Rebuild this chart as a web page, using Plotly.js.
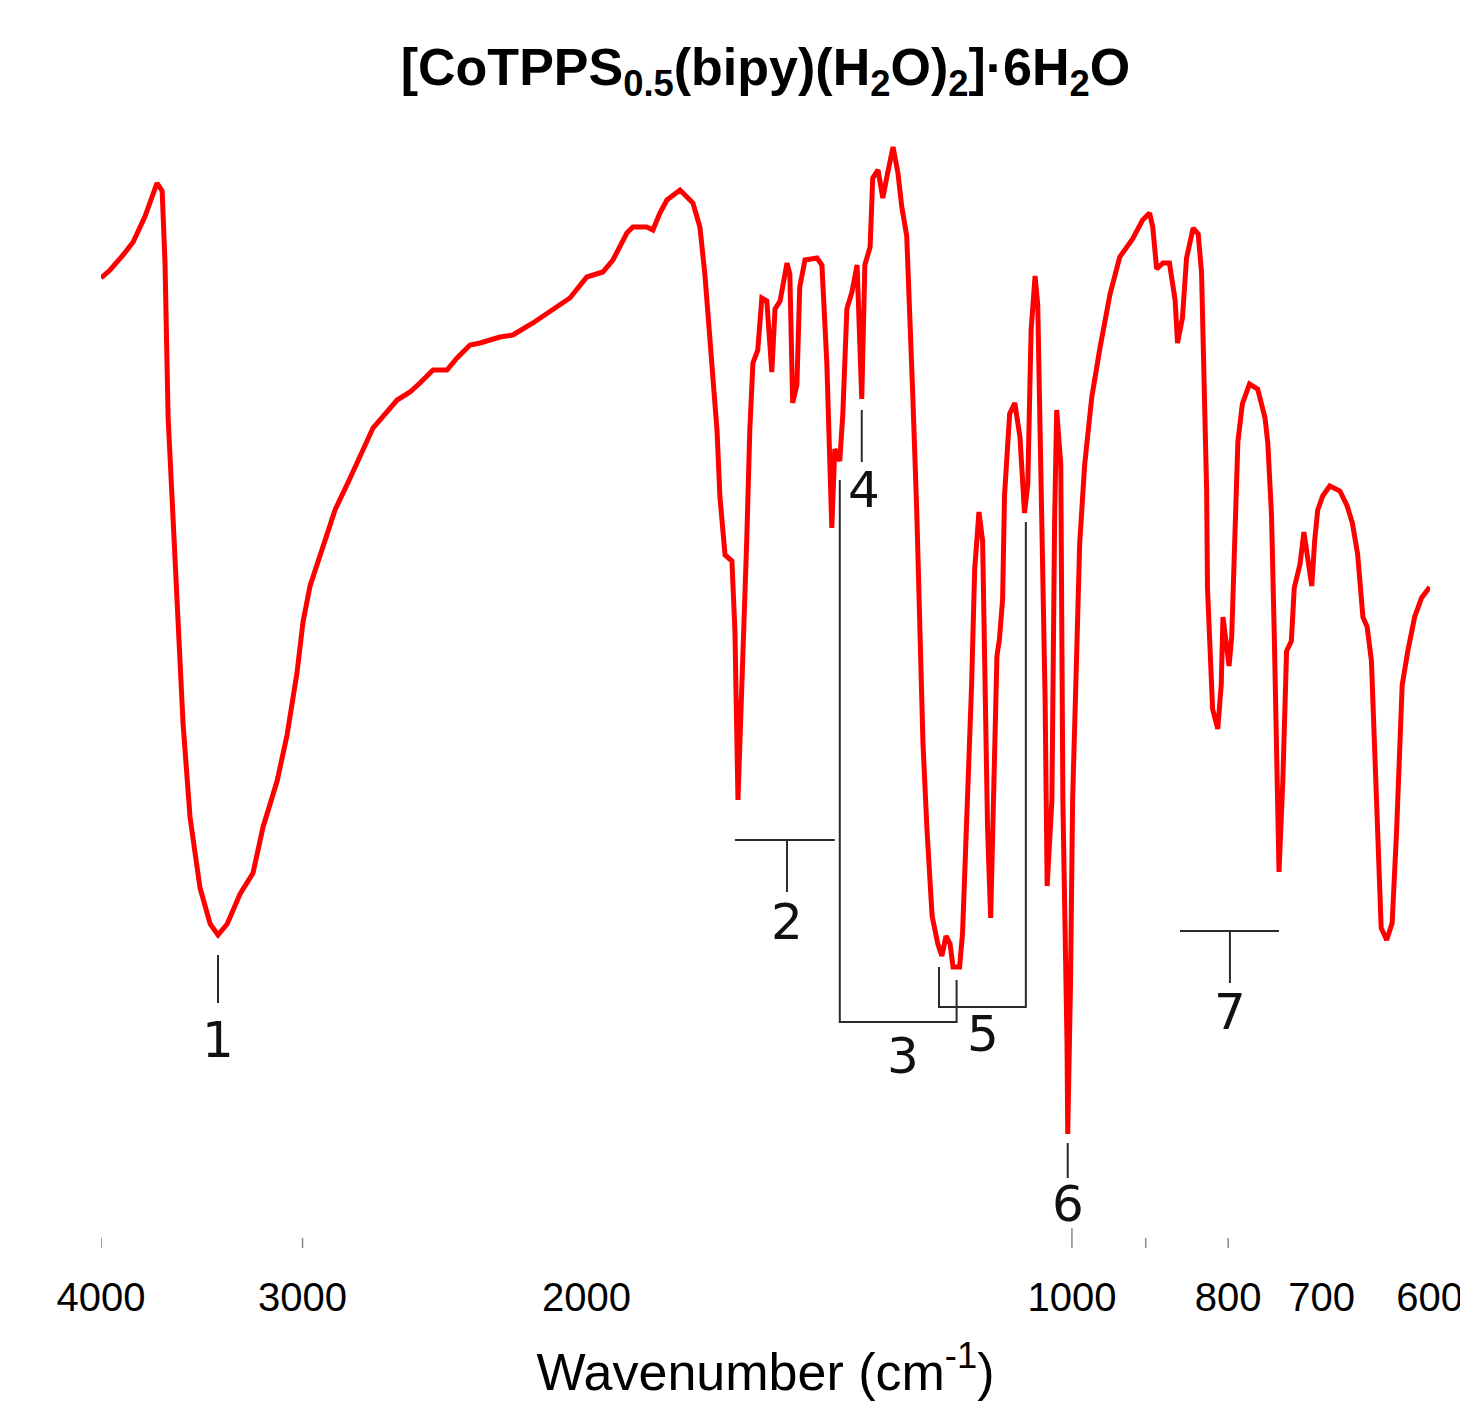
<!DOCTYPE html>
<html>
<head>
<meta charset="utf-8">
<script src="https://cdn.plot.ly/plotly-3.0.1.min.js"></script>
<style>
  html, body { margin: 0; padding: 0; background: #ffffff; }
  #chart { width: 1460px; height: 1401px; }
</style>
</head>
<body>
<div id="chart"></div>
<script>
// IR spectrum of [CoTPPS0.5(bipy)(H2O)2]·6H2O — wavenumber (cm-1) vs transmittance (arb. units)
const wavenumber = [
  4000,3949,3876,3821,3756,3719,3693,3666,3651,3635,
  3609,3583,3558,3523,3473,3423,3385,3341,3280,3220,
  3174,3111,3067,3024,2998,2968,2926,2864,2803,2756,
  2713,2621,2573,2537,2490,2441,2406,2362,2328,2263,
  2222,2159,2098,2048,1999,1954,1926,1888,1872,1835,
  1819,1801,1783,1750,1718,1701,1689,1672,1660,1653,
  1641,1625,1618,1611,1602,1591,1584,1577,1566,1557,
  1546,1535,1528,1517,1502,1496,1490,1481,1475,1464,
  1439,1429,1419,1413,1409,1403,1393,1387,1379,1369,
  1359,1350,1344,1334,1329,1319,1310,1301,1291,1282,
  1275,1266,1260,1255,1248,1243,1237,1230,1221,1211,
  1204,1197,1190,1185,1174,1169,1162,1154,1149,1142,
  1136,1133,1128,1123,1120,1113,1109,1104,1101,1093,
  1085,1077,1070,1065,1060,1054,1050,1044,1039,1036,
  1029,1025,1022,1016,1013,1007,1006,1002,999,993,
  989,982,972,961,947,934,917,904,895,891,
  886,878,870,863,860,854,849,841,835,831,
  827,825,824,821,818,812,808,806,802,799,
  796,792,789,784,776,767,759,756,752,749,
  746,744,740,738,736,731,728,722,718,714,
  710,707,704,699,692,682,675,670,665,660,
  656,652,649,646,643,638,633,629,626,624,
  619,613,607,600
];
const transmittance = [
  96.2,97.0,98.5,99.8,102.4,104.4,105.7,104.9,97.7,82.3,
  72.1,61.8,51.6,42.3,35.2,31.6,30.5,31.6,34.6,36.7,
  41.3,45.9,50.5,56.7,61.8,65.4,68.5,73.0,76.2,78.8,
  81.2,84.0,84.8,85.7,87.0,87.0,88.2,89.5,89.7,90.3,
  90.5,91.7,93.0,94.2,96.3,96.8,98.0,100.7,101.3,101.3,
  101.0,102.7,104.0,105.0,103.7,101.3,96.6,87.7,81.0,74.3,
  68.5,67.9,60.9,44.0,54.2,69.9,81.0,87.7,89.0,94.2,
  93.9,86.8,93.1,93.9,97.7,96.6,83.7,85.5,95.3,98.0,
  98.2,97.5,87.7,77.9,71.2,79.1,77.9,82.6,93.1,94.8,
  97.5,84.1,97.5,99.3,106.2,107.0,104.2,106.7,109.3,106.7,
  103.3,100.4,92.9,84.3,72.8,61.2,49.7,41.1,32.4,29.6,
  28.4,30.4,29.6,27.3,27.3,30.7,41.1,55.5,67.0,72.8,
  69.9,58.4,41.1,32.2,41.1,58.4,60.1,64.1,74.5,82.6,
  83.7,80.3,72.7,75.6,91.0,96.4,93.5,75.0,54.0,35.4,
  44.0,72.0,83.0,77.5,44.0,19.6,10.6,25.7,44.0,59.2,
  69.6,77.5,84.3,89.1,94.6,98.3,100.1,102.0,102.7,101.3,
  97.1,97.7,97.7,94.0,89.7,92.2,98.2,101.2,100.6,96.7,
  84.6,74.9,65.2,57.9,53.1,51.1,55.5,62.3,59.4,57.4,
  60.3,70.0,79.8,83.6,85.6,85.1,82.2,79.7,72.5,60.3,
  45.8,36.8,45.8,55.5,58.9,59.9,65.2,67.6,70.8,68.1,
  65.4,70.0,73.0,74.4,75.4,74.9,73.4,71.7,68.6,62.3,
  61.3,57.9,48.2,38.5,31.2,30.0,31.7,40.9,50.6,55.5,
  58.9,62.3,64.2,65.3
];

// Band assignment labels 1-7
const bandLabels = ['1', '2', '3', '4', '5', '6', '7'];
const bandLabelX = [3385, 1502, 1273, 1346, 1136, 1006, 798];
const bandLabelY = [20.0, 31.8, 18.4, 75.0, 20.6, 3.6, 22.8];

// Bracket / leader lines for the band labels (null separates segments)
const bracketX = [
  3385, 3385, null,                       // 1
  1618, 1403, null, 1502, 1502, null,     // 2
  1393, 1393, 1179, 1179, null,           // 3
  1350, 1350, null,                       // 4
  1209, 1209, 1068, 1068, null,           // 5
  1006, 1006, null,                       // 6
  857, 744, null, 798, 798                // 7
];
const bracketY = [
  28.5, 23.7, null,
  40.0, 40.0, null, 40.0, 34.8, null,
  76.0, 21.8, 21.8, 26.0, null,
  83.0, 77.8, null,
  27.3, 23.3, 23.3, 71.8, null,
  9.7, 6.2, null,
  30.9, 30.9, null, 30.9, 25.7
];

// Axis tick labels and tick marks
const tickLabelValues = [4000, 3000, 2000, 1000, 800, 700, 600];
const tickLabelText = ['4000', '3000', '2000', '1000', '800', '700', '600'];
const tickMarkValues = [4000, 3000, 1000, 900, 800];
const tickMarkTop = [0.2, 0.2, 1.2, 0.2, 0.2];
const tickMarkBottom = -0.8;

const tickX = [], tickY = [];
tickMarkValues.forEach((v, i) => {
  tickX.push(v, v, null);
  tickY.push(tickMarkTop[i], tickMarkBottom, null);
});

const traces = [
  {
    type: 'scatter', mode: 'lines', name: 'ticks',
    x: tickX, y: tickY,
    line: { color: '#8a8a8a', width: 1.5 },
    hoverinfo: 'skip', showlegend: false
  },
  {
    type: 'scatter', mode: 'lines', name: 'spectrum',
    x: wavenumber, y: transmittance,
    line: { color: '#ff0000', width: 5 },
    showlegend: false
  },
  {
    type: 'scatter', mode: 'lines', name: 'brackets',
    x: bracketX, y: bracketY,
    line: { color: '#2a2a2a', width: 2 },
    connectgaps: false,
    hoverinfo: 'skip', showlegend: false
  }
];

const annotations = bandLabels.map((t, i) => ({
  text: t,
  x: Math.log10(bandLabelX[i]),
  y: bandLabelY[i],
  xref: 'x', yref: 'y',
  xanchor: 'center', yanchor: 'middle',
  showarrow: false,
  font: { family: 'DejaVu Sans, Verdana, sans-serif', size: 50, color: '#111111' }
}));

const layout = {
  width: 1460,
  height: 1401,
  paper_bgcolor: '#ffffff',
  plot_bgcolor: '#ffffff',
  margin: { l: 101, r: 30, t: 130, b: 151 },
  showlegend: false,
  hovermode: false,
  title: {
    text: '[CoTPPS<sub>0.5</sub>(bipy)(H<sub>2</sub>O)<sub>2</sub>]·6H<sub>2</sub>O',
    font: { family: 'Liberation Sans, Arial, sans-serif', size: 52, weight: 'bold', color: '#000000' },
    x: 0.5, xref: 'paper', xanchor: 'center',
    y: 0.952, yref: 'container', yanchor: 'middle'
  },
  xaxis: {
    type: 'log',
    range: [Math.log10(4000.5), Math.log10(599.7)],
    tickmode: 'array',
    tickvals: tickLabelValues,
    ticktext: tickLabelText,
    ticks: '',
    ticklabelstandoff: 20,
    ticklabeloverflow: 'allow',
    tickfont: { family: 'Liberation Sans, Arial, sans-serif', size: 40, color: '#000000' },
    showgrid: false, zeroline: false, showline: false,
    title: {
      text: 'Wavenumber (cm<sup>-1</sup>)',
      font: { family: 'Liberation Sans, Arial, sans-serif', size: 52, color: '#000000' },
      standoff: 60
    },
    fixedrange: true
  },
  yaxis: {
    range: [-1, 111],
    visible: false,
    showgrid: false, zeroline: false,
    fixedrange: true
  },
  annotations: annotations
};

Plotly.newPlot('chart', traces, layout, { displayModeBar: false, staticPlot: true });
</script>
</body>
</html>
